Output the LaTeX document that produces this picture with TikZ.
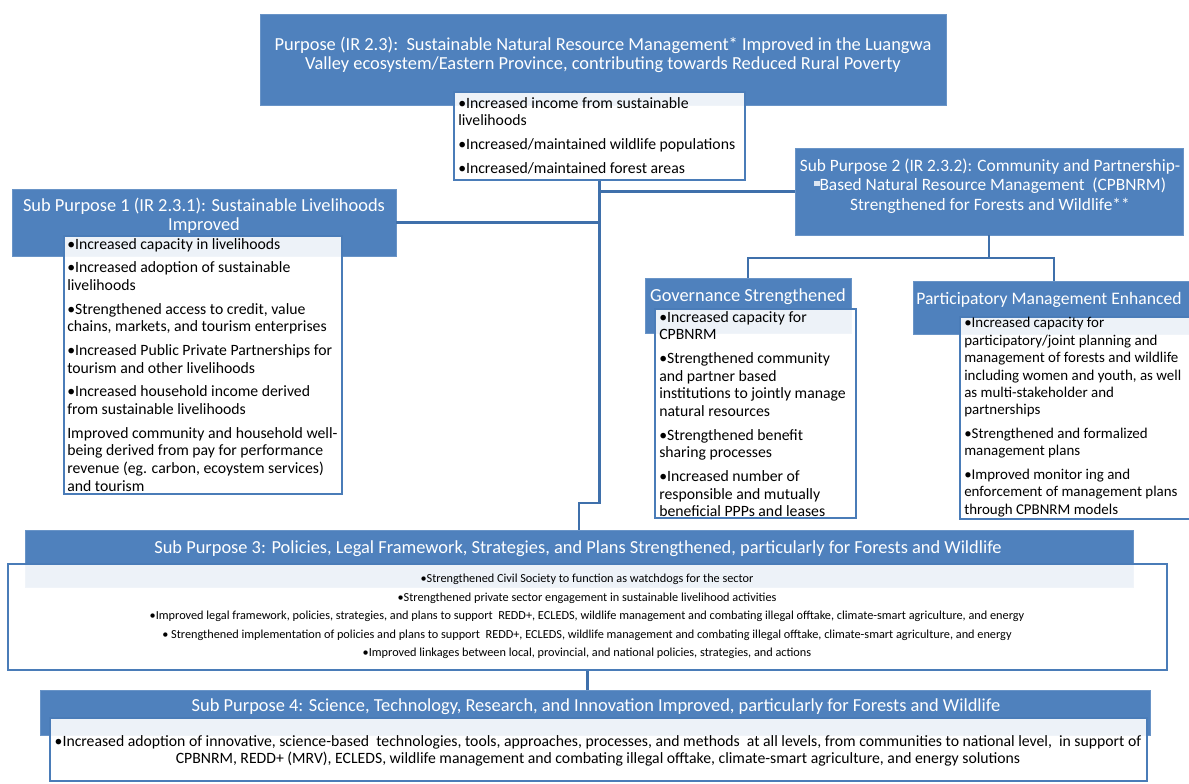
\documentclass[tikz,border=0pt]{standalone}
\usepackage{fontspec}
\setmainfont{Carlito}
\usetikzlibrary{fit}

\definecolor{spblue}{HTML}{4F81BD}
\definecolor{linkblue}{HTML}{3F70AB}
\definecolor{rimblue}{HTML}{4A7CB8}
\newcommand\titlesize{\fontsize{13.8}{14.4}\selectfont}
\newcommand\listsize{\fontsize{11.8}{13.25}\selectfont}
\newcommand\notesize{\fontsize{9.2}{13.9}\selectfont}
\newcommand\itemgap{\\[4.5pt]}

\begin{document}
\begin{tikzpicture}[x=0.75pt,y=-0.75pt,
    bluebox/.style={fill=spblue,draw=spblue!85!white,inner sep=0pt},
    listbox/.style={fill=white,fill opacity=0.9,draw=rimblue,line width=1.5pt,
      inner sep=0pt},
    head/.style={text=white,font=\titlesize,align=center,inner sep=0pt},
    items/.style={font=\listsize,align=left,anchor=north west,inner sep=0pt},
    conn/.style={draw=linkblue,line width=2pt} ]
  \path[use as bounding box] (0,0) rectangle (1189,783);
  \clip (0,0) rectangle (1189,783);
  % blue heading boxes
  \node[bluebox,fit={(260,14) (946,105)}] (purposeb) {};
  \node[bluebox,fit={(12,189) (396,256)}] (sp1b) {};
  \node[bluebox,fit={(795,148) (1183,235)}] (sp2b) {};
  \node[bluebox,fit={(645,278) (851,333)}] (govb) {};
  \node[bluebox,fit={(913,281) (1195,334)}] (partb) {};
  \node[bluebox,fit={(25,530) (1133,587)}] (sp3b) {};
  \node[bluebox,fit={(40,690) (1150,735)}] (sp4b) {};
  % white boxes
  \node[listbox,fit={(454,92) (745,180)}] (pb) {};
  \node[listbox,fit={(64,236) (342,494)}] (sp1w) {};
  \node[listbox,fit={(655,309) (856,518)}] (govw) {};
  \node[listbox,fit={(960,317) (1200,519)}] (partw) {};
  \node[listbox,fit={(8,564) (1167,670)}] (sp3w) {};
  \node[listbox,fit={(50,718) (1147,781)}] (sp4w) {};
  % connectors
  \coordinate (jog) at (579,503);
  \coordinate (split) at (990,258);
  \draw[conn] (sp1b.east) -- (sp1b.east -| pb.south);
  \draw[conn] (sp2b.west) -- (sp2b.west -| pb.south);
  \draw[conn] (sp2b.south) -- (sp2b.south |- split) -| (govb.north);
  \draw[conn] (sp2b.south |- split) -| (partb.north);
  \draw[conn] (pb.south) |- (jog) -- (jog |- sp3b.north);
  \draw[conn] (sp3w.south) -- (sp3w.south |- sp4b.north);
  % headings
  \node[head] (purposeT) at (603,55) {Purpose (IR 2.3):\ \ Sustainable Natural Resource Management* Improved in the Luangwa\\
    Valley ecosystem/Eastern Province, contributing towards Reduced Rural Poverty};
  \node[head] (sp1T) at (204,216) {Sub Purpose 1 (IR 2.3.1): Sustainable Livelihoods\\ Improved};
  \node[head,font=\fontsize{13}{14.4}\selectfont] (sp2T) at (990,186) {Sub Purpose 2 (IR 2.3.2): Community and Partnership-\\
    {\color{white!80!spblue}\rule[0.55ex]{0.32em}{0.32em}}Based Natural Resource Management\ \ (CPBNRM)\\
    Strengthened for Forests and Wildlife**};
  \node[head] (govT) at (748,297) {Governance Strengthened};
  \node[head,anchor=west,font=\fontsize{13.2}{14.4}\selectfont] (partT) at (916,300) {Participatory Management Enhanced};
  \node[head] (sp3T) at (578,549) {Sub Purpose 3: Policies, Legal Framework, Strategies, and Plans Strengthened, particularly for Forests and Wildlife};
  \node[head] (sp4T) at (596,707) {Sub Purpose 4: Science, Technology, Research, and Innovation Improved, particularly for Forests and Wildlife};
  % bullet lists
  \node[items] (pbT) at (458,97) {\textbullet Increased income from sustainable\\ livelihoods\itemgap
    \textbullet Increased/maintained wildlife populations\itemgap
    \textbullet Increased/maintained forest areas};
  \node[items] (sp1L) at (67,238) {\textbullet Increased capacity in livelihoods\itemgap
    \textbullet Increased adoption of sustainable\\ livelihoods\itemgap
    \textbullet Strengthened access to credit, value\\ chains, markets, and tourism enterprises\itemgap
    \textbullet Increased Public Private Partnerships for\\ tourism and other livelihoods\itemgap
    \textbullet Increased household income derived\\ from sustainable livelihoods\itemgap
    Improved community and household well-\\ being derived from pay for performance\\
    revenue (eg. carbon, ecoystem services)\\ and tourism};
  \node[items] (govL) at (659,311) {\textbullet Increased capacity for\\ CPBNRM\itemgap
    \textbullet Strengthened community\\ and partner based\\ institutions to jointly manage\\ natural resources\itemgap
    \textbullet Strengthened benefit\\ sharing processes\itemgap
    \textbullet Increased number of\\ responsible and mutually\\ beneficial PPPs and leases};
  \node[items,font=\fontsize{11.2}{13.1}\selectfont] (partL) at (964,317) {\textbullet Increased capacity for\\ participatory/joint planning and\\
    management of forests and wildlife\\ including women and youth, as well\\ as multi-stakeholder and\\ partnerships\itemgap
    \textbullet Strengthened and formalized\\ management plans\itemgap
    \textbullet Improved monitor ing and\\ enforcement of management plans\\ through CPBNRM models};
  \node[items,font=\notesize,align=center,anchor=north] (sp3L) at (587,574) {\textbullet Strengthened Civil Society to function as watchdogs for the sector\\
    \textbullet Strengthened private sector engagement in sustainable livelihood activities\\
    \textbullet Improved legal framework, policies, strategies, and plans to support\ \ REDD+, ECLEDS, wildlife management and combating illegal offtake, climate-smart agriculture, and energy\\
    \textbullet\ Strengthened implementation of policies and plans to support\ \ REDD+, ECLEDS, wildlife management and combating illegal offtake, climate-smart agriculture, and energy\\
    \textbullet Improved linkages between local, provincial, and national policies, strategies, and actions};
  \node[items,align=center,anchor=north] (sp4L) at (598,735) {\textbullet Increased adoption of innovative, science-based\ \ technologies, tools, approaches, processes, and methods\ \ at all levels, from communities to national level,\ \ in support of\\
    CPBNRM, REDD+ (MRV), ECLEDS, wildlife management and combating illegal offtake, climate-smart agriculture, and energy solutions};
\end{tikzpicture}
\end{document}
